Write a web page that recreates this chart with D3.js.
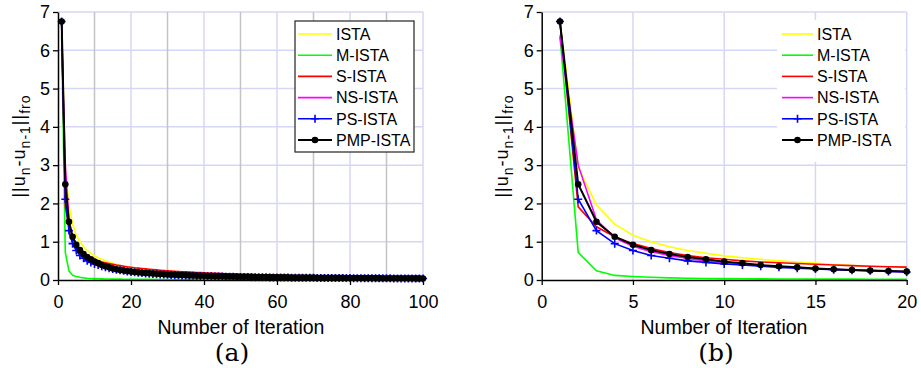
<!DOCTYPE html>
<html>
<head>
<meta charset="utf-8">
<script src="https://cdn.jsdelivr.net/npm/d3@7"></script>
<style>
body { margin: 0; background: #fff; }
text { font-family: "Liberation Sans", Arial, Helvetica, sans-serif; fill: #000; }
</style>
</head>
<body>
<svg id="chart" width="921" height="368"></svg>
<script>
// series names / colours, drawing order = legend order
var seriesNames = ["ISTA", "M-ISTA", "S-ISTA", "NS-ISTA", "PS-ISTA", "PMP-ISTA"];
var seriesColors = ["#ffff00", "#00ff00", "#ff0000", "#ff00ff", "#0000ff", "#000000"];

// ||u_n - u_(n-1)|| per iteration, n = 1..100
var ista = [6.75, 2.95, 1.96, 1.46, 1.17, 1.00, 0.87, 0.77, 0.70, 0.63,
    0.58, 0.54, 0.50, 0.47, 0.44, 0.40, 0.38, 0.36, 0.34, 0.325,
    0.31, 0.30, 0.285, 0.275, 0.265, 0.255, 0.245, 0.237, 0.229, 0.222,
    0.215, 0.208, 0.202, 0.196, 0.190, 0.185, 0.180, 0.175, 0.170, 0.166,
    0.162, 0.158, 0.154, 0.150, 0.147, 0.143, 0.140, 0.137, 0.134, 0.131,
    0.128, 0.125, 0.123, 0.120, 0.118, 0.115, 0.113, 0.111, 0.109, 0.107,
    0.105, 0.103, 0.101, 0.099, 0.097, 0.095, 0.094, 0.092, 0.090, 0.089,
    0.087, 0.086, 0.084, 0.083, 0.082, 0.080, 0.079, 0.078, 0.077, 0.075,
    0.074, 0.073, 0.072, 0.071, 0.070, 0.069, 0.068, 0.067, 0.066, 0.065,
    0.064, 0.063, 0.063, 0.062, 0.061, 0.060, 0.059, 0.059, 0.058, 0.057];

var mIsta = [6.40, 0.72, 0.24, 0.12, 0.09, 0.07, 0.055, 0.045, 0.040, 0.035,
    0.032, 0.030, 0.028, 0.026, 0.024, 0.023, 0.022, 0.021, 0.020, 0.019,
    0.018, 0.018, 0.017, 0.017, 0.016, 0.016, 0.015, 0.015, 0.014, 0.014,
    0.013, 0.013, 0.013, 0.012, 0.012, 0.012, 0.011, 0.011, 0.011, 0.011,
    0.010, 0.010, 0.010, 0.010, 0.009, 0.009, 0.009, 0.009, 0.009, 0.009,
    0.008, 0.008, 0.008, 0.008, 0.008, 0.008, 0.008, 0.008, 0.008, 0.008,
    0.007, 0.007, 0.007, 0.007, 0.007, 0.007, 0.007, 0.007, 0.007, 0.007,
    0.007, 0.007, 0.007, 0.007, 0.007, 0.006, 0.006, 0.006, 0.006, 0.006,
    0.006, 0.006, 0.006, 0.006, 0.006, 0.006, 0.006, 0.006, 0.006, 0.006,
    0.006, 0.006, 0.006, 0.006, 0.006, 0.005, 0.005, 0.005, 0.005, 0.005];

var sIsta = [6.75, 1.91, 1.39, 1.13, 0.95, 0.82, 0.72, 0.64, 0.58, 0.54,
    0.50, 0.47, 0.45, 0.43, 0.41, 0.39, 0.375, 0.36, 0.345, 0.335,
    0.32, 0.31, 0.30, 0.29, 0.28, 0.272, 0.264, 0.256, 0.249, 0.242,
    0.235, 0.229, 0.223, 0.217, 0.212, 0.207, 0.202, 0.197, 0.192, 0.188,
    0.184, 0.180, 0.176, 0.172, 0.168, 0.165, 0.162, 0.158, 0.155, 0.152,
    0.149, 0.146, 0.143, 0.141, 0.138, 0.136, 0.133, 0.131, 0.129, 0.127,
    0.124, 0.122, 0.120, 0.118, 0.116, 0.114, 0.113, 0.111, 0.109, 0.107,
    0.106, 0.104, 0.102, 0.101, 0.099, 0.098, 0.096, 0.095, 0.094, 0.092,
    0.091, 0.090, 0.088, 0.087, 0.086, 0.085, 0.084, 0.083, 0.082, 0.081,
    0.080, 0.079, 0.078, 0.077, 0.076, 0.075, 0.074, 0.073, 0.072, 0.071];

var nsIsta = [6.35, 3.00, 1.57, 1.10, 0.88, 0.74, 0.64, 0.56, 0.50, 0.46,
    0.42, 0.38, 0.35, 0.32, 0.30, 0.28, 0.26, 0.245, 0.232, 0.22,
    0.21, 0.20, 0.19, 0.182, 0.175, 0.168, 0.162, 0.156, 0.150, 0.145,
    0.140, 0.136, 0.132, 0.128, 0.124, 0.120, 0.117, 0.114, 0.111, 0.108,
    0.105, 0.103, 0.100, 0.098, 0.096, 0.094, 0.092, 0.090, 0.088, 0.086,
    0.084, 0.083, 0.081, 0.080, 0.078, 0.077, 0.075, 0.074, 0.073, 0.072,
    0.070, 0.069, 0.068, 0.067, 0.066, 0.065, 0.064, 0.063, 0.062, 0.061,
    0.060, 0.059, 0.058, 0.058, 0.057, 0.056, 0.055, 0.055, 0.054, 0.053,
    0.052, 0.052, 0.051, 0.050, 0.050, 0.049, 0.048, 0.048, 0.047, 0.047,
    0.046, 0.045, 0.045, 0.044, 0.044, 0.043, 0.043, 0.042, 0.042, 0.041];

var psIsta = [6.75, 2.11, 1.29, 0.95, 0.77, 0.64, 0.57, 0.50, 0.46, 0.42,
    0.39, 0.36, 0.33, 0.31, 0.29, 0.27, 0.255, 0.24, 0.225, 0.21,
    0.20, 0.19, 0.18, 0.172, 0.165, 0.158, 0.152, 0.146, 0.141, 0.136,
    0.131, 0.127, 0.123, 0.119, 0.116, 0.112, 0.109, 0.106, 0.103, 0.100,
    0.098, 0.095, 0.093, 0.091, 0.089, 0.087, 0.085, 0.083, 0.081, 0.080,
    0.078, 0.076, 0.075, 0.073, 0.072, 0.071, 0.069, 0.068, 0.067, 0.066,
    0.065, 0.064, 0.063, 0.062, 0.061, 0.060, 0.059, 0.058, 0.057, 0.056,
    0.055, 0.055, 0.054, 0.053, 0.052, 0.052, 0.051, 0.050, 0.050, 0.049,
    0.048, 0.048, 0.047, 0.046, 0.046, 0.045, 0.045, 0.044, 0.044, 0.043,
    0.043, 0.042, 0.042, 0.041, 0.041, 0.040, 0.040, 0.039, 0.039, 0.038];

var pmpIsta = [6.75, 2.50, 1.52, 1.13, 0.92, 0.78, 0.68, 0.60, 0.54, 0.48,
    0.44, 0.39, 0.36, 0.33, 0.30, 0.28, 0.26, 0.245, 0.232, 0.22,
    0.21, 0.20, 0.19, 0.182, 0.175, 0.168, 0.162, 0.156, 0.150, 0.145,
    0.140, 0.136, 0.132, 0.128, 0.124, 0.120, 0.117, 0.114, 0.111, 0.108,
    0.105, 0.103, 0.100, 0.098, 0.096, 0.094, 0.092, 0.090, 0.088, 0.086,
    0.084, 0.083, 0.081, 0.080, 0.078, 0.077, 0.075, 0.074, 0.073, 0.072,
    0.070, 0.069, 0.068, 0.067, 0.066, 0.065, 0.064, 0.063, 0.062, 0.061,
    0.060, 0.059, 0.058, 0.058, 0.057, 0.056, 0.055, 0.055, 0.054, 0.053,
    0.052, 0.052, 0.051, 0.050, 0.050, 0.049, 0.048, 0.048, 0.047, 0.047,
    0.046, 0.045, 0.045, 0.044, 0.044, 0.043, 0.043, 0.042, 0.042, 0.041];

var allSeries = [ista, mIsta, sIsta, nsIsta, psIsta, pmpIsta];

var yTicks = [0, 1, 2, 3, 4, 5, 6, 7];
var xTicksA = [0, 20, 40, 60, 80, 100];
var xTicksB = [0, 5, 10, 15, 20];
var gridBlueA = [20, 40, 60, 80, 100];
var grayGridA = [10, 30, 50, 70, 90];
var gridBlueB = [5, 10, 15, 20];

var svg = d3.select("#chart");
var gridBlue = "#d6d6f6";
var gridGray = "#c4c4c4";

function drawPanel(p) {
    var x = d3.scaleLinear().domain([0, p.maxIter]).range([p.left, p.right]);
    var y = d3.scaleLinear().domain([0, 7]).range([280, 12]);
    var g = svg.append("g");

    // horizontal grid
    g.selectAll(".hgrid").data(yTicks.slice(1)).enter().append("line")
        .attr("x1", x(0)).attr("x2", x(p.maxIter))
        .attr("y1", function(d) { return y(d); })
        .attr("y2", function(d) { return y(d); })
        .attr("stroke", gridBlue).attr("stroke-width", 1.5);

    // vertical grid
    g.selectAll(".vgrid").data(p.blueGrid).enter().append("line")
        .attr("x1", function(d) { return x(d); })
        .attr("x2", function(d) { return x(d); })
        .attr("y1", y(0)).attr("y2", y(7))
        .attr("stroke", gridBlue).attr("stroke-width", 1.5);
    g.selectAll(".ggrid").data(p.grayGrid).enter().append("line")
        .attr("x1", function(d) { return x(d); })
        .attr("x2", function(d) { return x(d); })
        .attr("y1", y(0)).attr("y2", y(7))
        .attr("stroke", gridGray).attr("stroke-width", 1.5);

    var line = d3.line()
        .x(function(d, i) { return x(i + 1); })
        .y(function(d) { return y(d); });

    allSeries.forEach(function(s, k) {
        var data = s.slice(0, p.maxIter);
        g.append("path")
            .datum(data)
            .attr("d", line)
            .attr("fill", "none")
            .attr("stroke", seriesColors[k])
            .attr("stroke-width", k == 5 ? 2 : 1.6);

        if (seriesNames[k] == "PS-ISTA") {
            g.selectAll(".plus" + k).data(data).enter().append("path")
                .attr("d", function(d, i) {
                    var cx = x(i + 1), cy = y(d);
                    return "M" + (cx - 4) + "," + cy + "H" + (cx + 4) + "M" + cx + "," + (cy - 4) + "V" + (cy + 4);
                })
                .attr("stroke", seriesColors[k]).attr("stroke-width", 1.6);
        }
        if (seriesNames[k] == "PMP-ISTA") {
            g.selectAll(".dot" + k).data(data).enter().append("circle")
                .attr("cx", function(d, i) { return x(i + 1); })
                .attr("cy", function(d) { return y(d); })
                .attr("r", 3.3)
                .attr("fill", "#000");
        }
    });

    // axes
    var xAxis = d3.axisBottom(x).tickValues(p.xTicks).tickSize(5).tickSizeOuter(0).tickPadding(10)
        .tickFormat(d3.format("d"));
    var yAxis = d3.axisLeft(y).tickValues(yTicks).tickSize(5).tickSizeOuter(0).tickPadding(3)
        .tickFormat(d3.format("d"));

    var xg = g.append("g").attr("transform", "translate(0," + y(0) + ")").call(xAxis);
    var yg = g.append("g").attr("transform", "translate(" + x(0) + ",0)").call(yAxis);
    [xg, yg].forEach(function(a) {
        a.select(".domain").attr("stroke", "#000").attr("stroke-width", 1.5);
        a.selectAll(".tick line").attr("stroke", "#000").attr("stroke-width", 1.3);
        a.selectAll(".tick text").attr("font-size", 18).attr("fill", "#000");
    });

    // x label + caption
    g.append("text")
        .attr("x", p.labelX).attr("y", 334)
        .attr("text-anchor", "middle")
        .attr("font-size", 19.5)
        .text("Number of Iteration");
    g.append("text")
        .attr("x", p.capX).attr("y", 361)
        .attr("text-anchor", "middle")
        .attr("font-size", 25)
        .style("font-family", "'DejaVu Serif', 'Liberation Serif', serif")
        .text(p.caption);

    // y label ||u_n - u_(n-1)||_fro
    var yl = g.append("text")
        .attr("transform", "rotate(-90)")
        .attr("x", -146).attr("y", p.yLabelX)
        .attr("text-anchor", "middle")
        .attr("font-size", 18)
        .attr("letter-spacing", 1);
    yl.append("tspan").text("||u");
    yl.append("tspan").attr("dy", 5).attr("font-size", 14).text("n");
    yl.append("tspan").attr("dy", -5).text("-u");
    yl.append("tspan").attr("dy", 5).attr("font-size", 14).text("n-1");
    yl.append("tspan").attr("dy", -5).text("||");
    yl.append("tspan").attr("dy", 5).attr("font-size", 14).text("fro");

    // legend
    var lg = g.append("g");
    lg.append("rect")
        .attr("x", p.legend.x).attr("y", p.legend.y)
        .attr("width", p.legend.w).attr("height", p.legend.h)
        .attr("fill", "#fff")
        .attr("stroke", p.legend.border ? "#333" : "none")
        .attr("stroke-width", 1.3);
    seriesNames.forEach(function(name, k) {
        var ry = 34 + k * 21.2;
        lg.append("line")
            .attr("x1", p.legend.lx1).attr("x2", p.legend.lx2)
            .attr("y1", ry).attr("y2", ry)
            .attr("stroke", seriesColors[k]).attr("stroke-width", k == 5 ? 2 : 1.6);
        var mx = (p.legend.lx1 + p.legend.lx2) / 2;
        if (name == "PS-ISTA") {
            lg.append("path")
                .attr("d", "M" + (mx - 4) + "," + ry + "H" + (mx + 4) + "M" + mx + "," + (ry - 4) + "V" + (ry + 4))
                .attr("stroke", seriesColors[k]).attr("stroke-width", 1.6);
        }
        if (name == "PMP-ISTA") {
            lg.append("circle").attr("cx", mx).attr("cy", ry).attr("r", 3.3).attr("fill", "#000");
        }
        lg.append("text")
            .attr("x", p.legend.tx).attr("y", ry)
            .attr("dy", "0.36em")
            .attr("font-size", 16)
            .text(name);
    });
}

drawPanel({
    left: 58, right: 423, maxIter: 100,
    xTicks: xTicksA, blueGrid: gridBlueA, grayGrid: grayGridA,
    labelX: 241, capX: 232, caption: "(a)", yLabelX: 25,
    legend: {x: 295, y: 21, w: 119, h: 131, border: true, lx1: 298, lx2: 332, tx: 336}
});

drawPanel({
    left: 541.7, right: 906.7, maxIter: 20,
    xTicks: xTicksB, blueGrid: gridBlueB, grayGrid: [],
    labelX: 724, capX: 716, caption: "(b)", yLabelX: 508,
    legend: {x: 777, y: 20, w: 128, h: 142, border: false, lx1: 782, lx2: 813, tx: 817}
});
</script>
</body>
</html>
